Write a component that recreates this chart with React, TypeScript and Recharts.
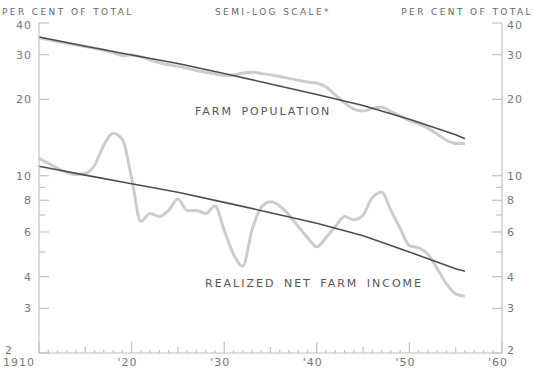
import { LineChart, Line, XAxis, YAxis } from "recharts";

const years = [
  1910, 1911, 1912, 1913, 1914, 1915, 1916, 1917, 1918, 1919,
  1920, 1921, 1922, 1923, 1924, 1925, 1926, 1927, 1928, 1929,
  1930, 1931, 1932, 1933, 1934, 1935, 1936, 1937, 1938, 1939,
  1940, 1941, 1942, 1943, 1944, 1945, 1946, 1947, 1948, 1949,
  1950, 1951, 1952, 1953, 1954, 1955, 1956,
];

// farm population, per cent of total
const farmPopulation = [
  35.0, 34.4, 33.8, 33.3, 32.8, 32.3, 31.8, 31.3, 30.6, 29.8,
  29.9, 29.4, 28.6, 27.9, 27.4, 27.0, 26.5, 26.0, 25.6, 25.2,
  24.8, 24.9, 25.4, 25.6, 25.3, 25.0, 24.6, 24.2, 23.8, 23.4,
  23.2, 22.4, 20.8, 19.4, 18.3, 18.0, 18.4, 18.6, 17.9, 17.2,
  16.5, 16.0, 15.4, 14.6, 13.8, 13.4, 13.4,
];

// realized net farm income, per cent of total
const netFarmIncome = [
  11.7, 11.2, 10.7, 10.3, 10.1, 10.2, 11.0, 13.2, 14.7, 13.9,
  9.8, 6.6, 7.1, 6.9, 7.3, 8.1, 7.3, 7.3, 7.1, 7.6,
  6.1, 4.9, 4.4, 6.1, 7.5, 7.9, 7.6, 7.0, 6.3, 5.7,
  5.25, 5.7, 6.3, 6.9, 6.7, 7.0, 8.2, 8.6, 7.3, 6.2,
  5.3, 5.2, 4.9, 4.3, 3.75, 3.42, 3.35,
];

// trend lines
const trendYears = [1910, 1915, 1920, 1925, 1930, 1935, 1940, 1945, 1950, 1955, 1956];
const farmTrend = [35.2, 32.4, 29.9, 27.7, 25.3, 23.0, 20.9, 18.9, 16.7, 14.5, 14.0];
const incomeTrend = [10.9, 10.05, 9.3, 8.6, 7.85, 7.15, 6.5, 5.8, 5.0, 4.3, 4.2];

const yTicks = [2, 3, 4, 5, 6, 7, 8, 9, 10, 20, 30, 40];
const yLabels = [2, 3, 4, 6, 8, 10, 20, 30, 40];
const xTicks = Array.from({ length: 51 }, (_, i) => 1910 + i);
const topTicks = [1910, 1920, 1930, 1940, 1950, 1960];
const xLabels: Record<number, string> = {
  1910: "1910",
  1920: "'20",
  1930: "'30",
  1940: "'40",
  1950: "'50",
  1960: "'60",
};

const data = years.map((year, i) => {
  const t = trendYears.indexOf(year);
  return {
    year,
    farm: farmPopulation[i],
    income: netFarmIncome[i],
    farmTrend: t >= 0 ? farmTrend[t] : null,
    incomeTrend: t >= 0 ? incomeTrend[t] : null,
  };
});

const FRAME = "#c2c2c2";
const LABEL = "#777";
const FONT = "'DejaVu Sans', sans-serif";

const BottomTick = ({ x, y, payload }: any) => {
  const yr = payload.value;
  const len = yr % 10 === 0 ? 11 : yr % 5 === 0 ? 6 : 3;
  const label = xLabels[yr];
  return (
    <g>
      <line x1={x} y1={y} x2={x} y2={y - len} stroke={FRAME} strokeWidth={1.2} />
      {label && (
        <text
          x={x - 4}
          y={y + 13}
          textAnchor={yr === 1910 ? "end" : "middle"}
          fill={LABEL}
          fontSize={11}
          fontFamily={FONT}
          letterSpacing={1}
        >
          {label}
        </text>
      )}
    </g>
  );
};

const TopTick = ({ x, y }: any) => (
  <line x1={x} y1={y} x2={x} y2={y + 4} stroke={FRAME} strokeWidth={1.2} />
);

const LeftTick = ({ x, y, payload }: any) => {
  const v = payload.value;
  const labeled = yLabels.includes(v);
  return (
    <g>
      <line x1={x} y1={y} x2={x + (labeled ? 10 : 6)} y2={y} stroke={FRAME} strokeWidth={1.2} />
      {labeled && (
        <text
          x={v === 2 ? x - 26 : x - 7}
          y={v === 2 ? y + 1 : v === 40 ? y + 6 : y + 4}
          textAnchor="end"
          fill={LABEL}
          fontSize={11}
          fontFamily={FONT}
          letterSpacing={1}
        >
          {v}
        </text>
      )}
    </g>
  );
};

const RightTick = ({ x, y, payload }: any) => {
  const v = payload.value;
  const labeled = yLabels.includes(v);
  return (
    <g>
      <line x1={x} y1={y} x2={x - (labeled ? 10 : 6)} y2={y} stroke={FRAME} strokeWidth={1.2} />
      {labeled && (
        <text
          x={x + 5}
          y={v === 2 ? y + 1 : v === 40 ? y + 6 : y + 4}
          textAnchor="start"
          fill={LABEL}
          fontSize={11}
          fontFamily={FONT}
          letterSpacing={1}
        >
          {v}
        </text>
      )}
    </g>
  );
};

const headStyle = {
  fill: "#666",
  fontSize: 9,
  fontFamily: FONT,
  letterSpacing: 2.4,
};

const seriesStyle = {
  fill: "#555",
  fontSize: 11,
  fontFamily: FONT,
  letterSpacing: 2,
  wordSpacing: 3,
};

export default function App() {
  return (
    <div style={{ position: "absolute", left: 0, top: 0, width: 534, height: 370, background: "#fff" }}>
      <LineChart
        width={534}
        height={370}
        data={data}
        margin={{ top: 23, right: 0, bottom: 0, left: 0 }}
      >
        <XAxis
          xAxisId="bottom"
          dataKey="year"
          type="number"
          domain={[1910, 1960]}
          ticks={xTicks}
          interval={0}
          height={17}
          tickSize={0}
          tickMargin={0}
          tickLine={false}
          axisLine={{ stroke: FRAME, strokeWidth: 1.2 }}
          tick={<BottomTick />}
        />
        <XAxis
          xAxisId="top"
          orientation="top"
          dataKey="year"
          type="number"
          domain={[1910, 1960]}
          ticks={topTicks}
          interval={0}
          height={0}
          tickSize={0}
          tickMargin={0}
          tickLine={false}
          axisLine={{ stroke: FRAME, strokeWidth: 1.2 }}
          tick={<TopTick />}
        />
        <YAxis
          yAxisId="left"
          scale="log"
          domain={[2, 40]}
          allowDataOverflow
          ticks={yTicks}
          interval={0}
          width={39}
          tickSize={0}
          tickMargin={0}
          tickLine={false}
          axisLine={{ stroke: FRAME, strokeWidth: 1.2 }}
          tick={<LeftTick />}
        />
        <YAxis
          yAxisId="right"
          orientation="right"
          scale="log"
          domain={[2, 40]}
          allowDataOverflow
          ticks={yTicks}
          interval={0}
          width={32}
          tickSize={0}
          tickMargin={0}
          tickLine={false}
          axisLine={{ stroke: FRAME, strokeWidth: 1.2 }}
          tick={<RightTick />}
        />
        <Line
          xAxisId="bottom"
          yAxisId="left"
          dataKey="farm"
          type="monotone"
          stroke="#cccccc"
          strokeWidth={3}
          dot={false}
          isAnimationActive={false}
        />
        <Line
          xAxisId="bottom"
          yAxisId="left"
          dataKey="income"
          type="monotone"
          stroke="#cccccc"
          strokeWidth={3}
          dot={false}
          isAnimationActive={false}
        />
        <Line
          xAxisId="bottom"
          yAxisId="left"
          dataKey="farmTrend"
          type="linear"
          stroke="#4d4d4d"
          strokeWidth={1.6}
          dot={false}
          connectNulls
          isAnimationActive={false}
        />
        <Line
          xAxisId="bottom"
          yAxisId="left"
          dataKey="incomeTrend"
          type="linear"
          stroke="#4d4d4d"
          strokeWidth={1.6}
          dot={false}
          connectNulls
          isAnimationActive={false}
        />
      </LineChart>
      <svg
        width={534}
        height={370}
        style={{ position: "absolute", left: 0, top: 0, pointerEvents: "none" }}
      >
        <text x={2} y={15} {...headStyle}>PER CENT OF TOTAL</text>
        <text x={273} y={15} textAnchor="middle" {...headStyle}>SEMI-LOG SCALE*</text>
        <text x={533} y={15} textAnchor="end" {...headStyle}>PER CENT OF TOTAL</text>
        <text x={195} y={115} {...seriesStyle}>FARM POPULATION</text>
        <text x={205} y={287} {...seriesStyle}>REALIZED NET FARM INCOME</text>
      </svg>
    </div>
  );
}
